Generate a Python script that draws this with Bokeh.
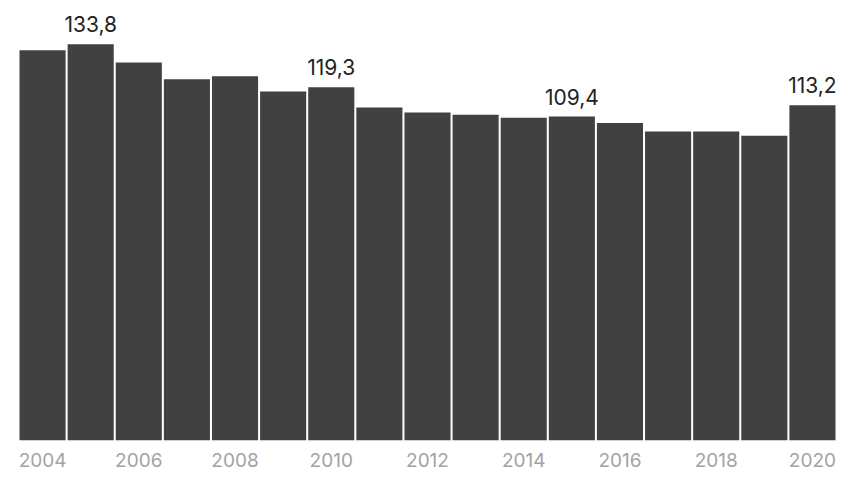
from bokeh.plotting import figure
from bokeh.models import ColumnDataSource, FixedTicker, Range1d
from bokeh.core.properties import value
from bokeh.embed import file_html
from bokeh.resources import INLINE

years = list(range(2004, 2021))
values = [131.8, 133.8, 127.7, 122.0, 123.0, 117.9, 119.3, 112.5, 110.8,
          110.0, 109.0, 109.4, 107.2, 104.4, 104.4, 102.9, 113.2]
label_years = [2005, 2010, 2015, 2020]
label_texts = ["133,8", "119,3", "109,4", "113,2"]
tick_years = [2004, 2006, 2008, 2010, 2012, 2014, 2016, 2018, 2020]

label_values = [values[years.index(y)] for y in label_years]

src = ColumnDataSource(dict(x=years, top=values))
lsrc = ColumnDataSource(dict(x=label_years, y=label_values, t=label_texts))

p = figure(width=850, height=481, output_backend="svg", toolbar_location=None,
           x_range=Range1d(2003.5, 2020.5), y_range=Range1d(0, 145.9),
           min_border_left=18, min_border_right=14, min_border_top=8,
           min_border_bottom=41, background_fill_color="white",
           border_fill_color="white", outline_line_color=None)

p.vbar(x="x", top="top", bottom=0, width=0.958, source=src,
       fill_color="#414141", line_color=None)

p.text(x="x", y="y", text="t", source=lsrc, text_align="center",
       text_baseline="alphabetic", y_offset=-20,
       text_font=value("Inter"), text_font_size="21px", text_color="#222222")

p.yaxis.visible = False
p.grid.visible = False
ax = p.xaxis[0]
ax.ticker = FixedTicker(ticks=tick_years)
ax.axis_line_color = None
ax.major_tick_line_color = None
ax.minor_tick_line_color = None
ax.major_tick_out = 0
ax.major_tick_in = 0
ax.major_label_standoff = 12
ax.major_label_text_font = "Inter"
ax.major_label_text_font_size = "19px"
ax.major_label_text_color = "#a3a3a3"

open("out.html", "w").write(file_html(p, INLINE))
